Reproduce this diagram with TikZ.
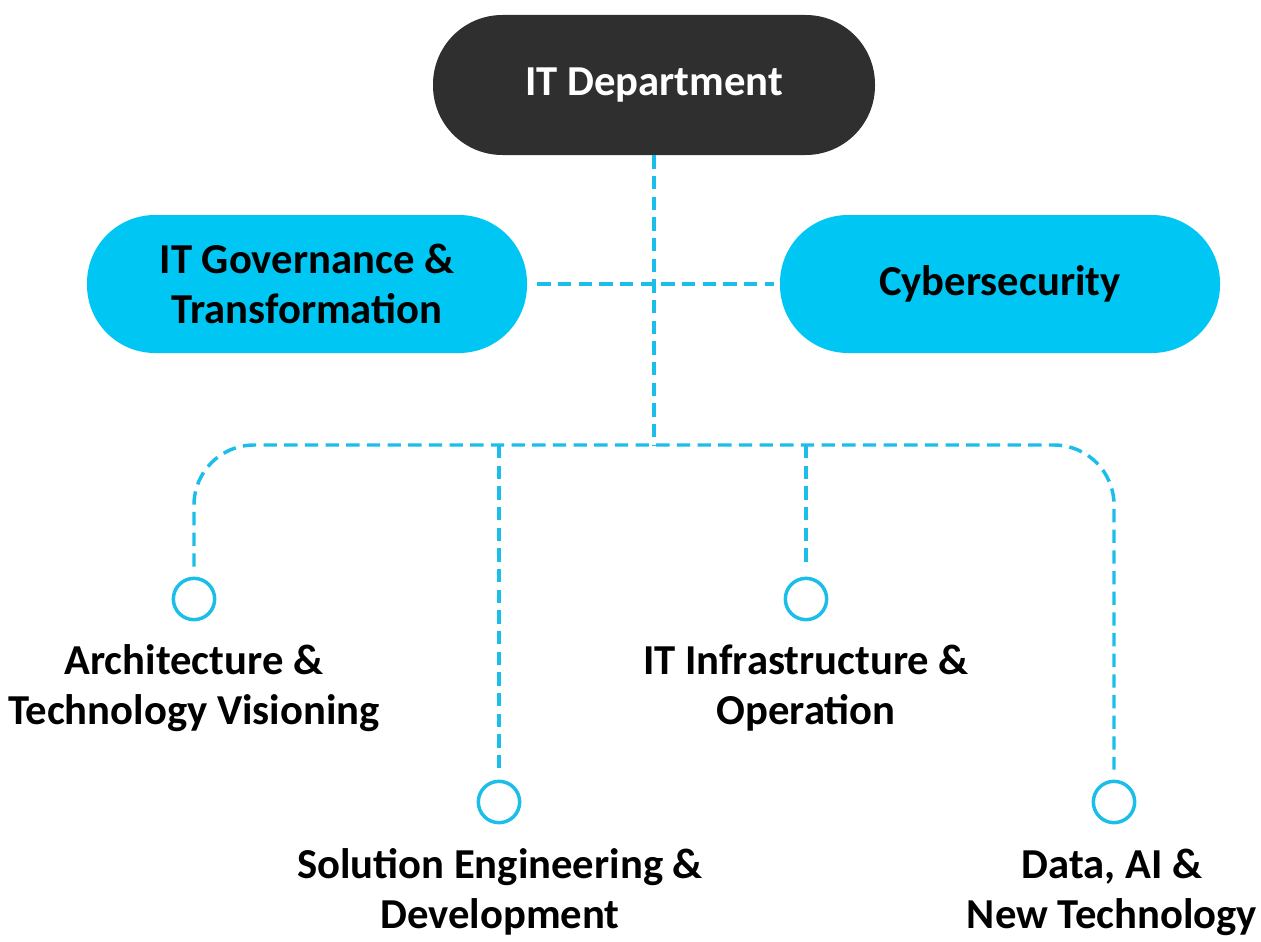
\documentclass[tikz,border=0pt]{standalone}
\usepackage{fontspec}
\setmainfont{Carlito}
\definecolor{skyfill}{HTML}{00C6F4}
\definecolor{linkblue}{HTML}{1BBDE9}
\definecolor{headfill}{HTML}{2F2F2F}
\newcommand\diagfont{\fontsize{32pt}{37.5pt}\selectfont\bfseries}
\begin{document}
\begin{tikzpicture}[x=0.75pt,y=-0.75pt,
  pill/.style={rectangle, rounded corners=51pt, fill=skyfill,
    minimum width=330pt, minimum height=103.5pt, inner sep=0pt,
    align=center, font=\diagfont, text=black},
  headpill/.style={pill, fill=headfill, text=white,
    minimum width=331.5pt, minimum height=105pt, rounded corners=52pt},
  link/.style={draw=linkblue, line width=2.6pt, dash pattern=on 10pt off 5.5pt},
  ring/.style={circle, draw=linkblue, line width=2.6pt, minimum size=31pt,
    inner sep=0pt, fill=white},
  caption/.style={align=center, font=\diagfont, inner sep=0pt, text=black}]
  \useasboundingbox (0,0) rectangle (1261,942);

  % boxes
  \node[headpill] (dept) at (654,85) {IT Department};
  \node[pill] (gov) at (307,284) {IT Governance \&\\Transformation};
  \node[pill] (cyber) at (1000,284) {Cybersecurity};

  % junction on the distribution bus
  \coordinate (hub) at (654,445);

  % end markers
  \node[ring] (r1) at (194,599) {};
  \node[ring] (r2) at (499,802) {};
  \node[ring] (r3) at (806,599) {};
  \node[ring] (r4) at (1114,802) {};

  % connectors
  \draw[link] (dept.south) -- (hub);
  \draw[link, shorten <=7.5pt, shorten >=4pt] (gov.east) -- (cyber.west);
  \draw[link, rounded corners=45pt, shorten <=7.5pt, shorten >=7.5pt]
    (r1.north) |- (hub) -| (r4.north);
  \draw[link, shorten >=7.5pt] (r2.north |- hub) -- (r2.north);
  \draw[link, shorten >=7.5pt] (r3.north |- hub) -- (r3.north);

  % captions
  \node[caption] (c1) at (194,688) {Architecture \&\\Technology Visioning};
  \node[caption] (c3) at (806,688) {IT Infrastructure \&\\Operation};
  \node[caption] (c2) at (500,892) {Solution Engineering \&\\Development};
  \node[caption] (c4) at (1112,892) {Data, AI \&\\New Technology};
\end{tikzpicture}
\end{document}
